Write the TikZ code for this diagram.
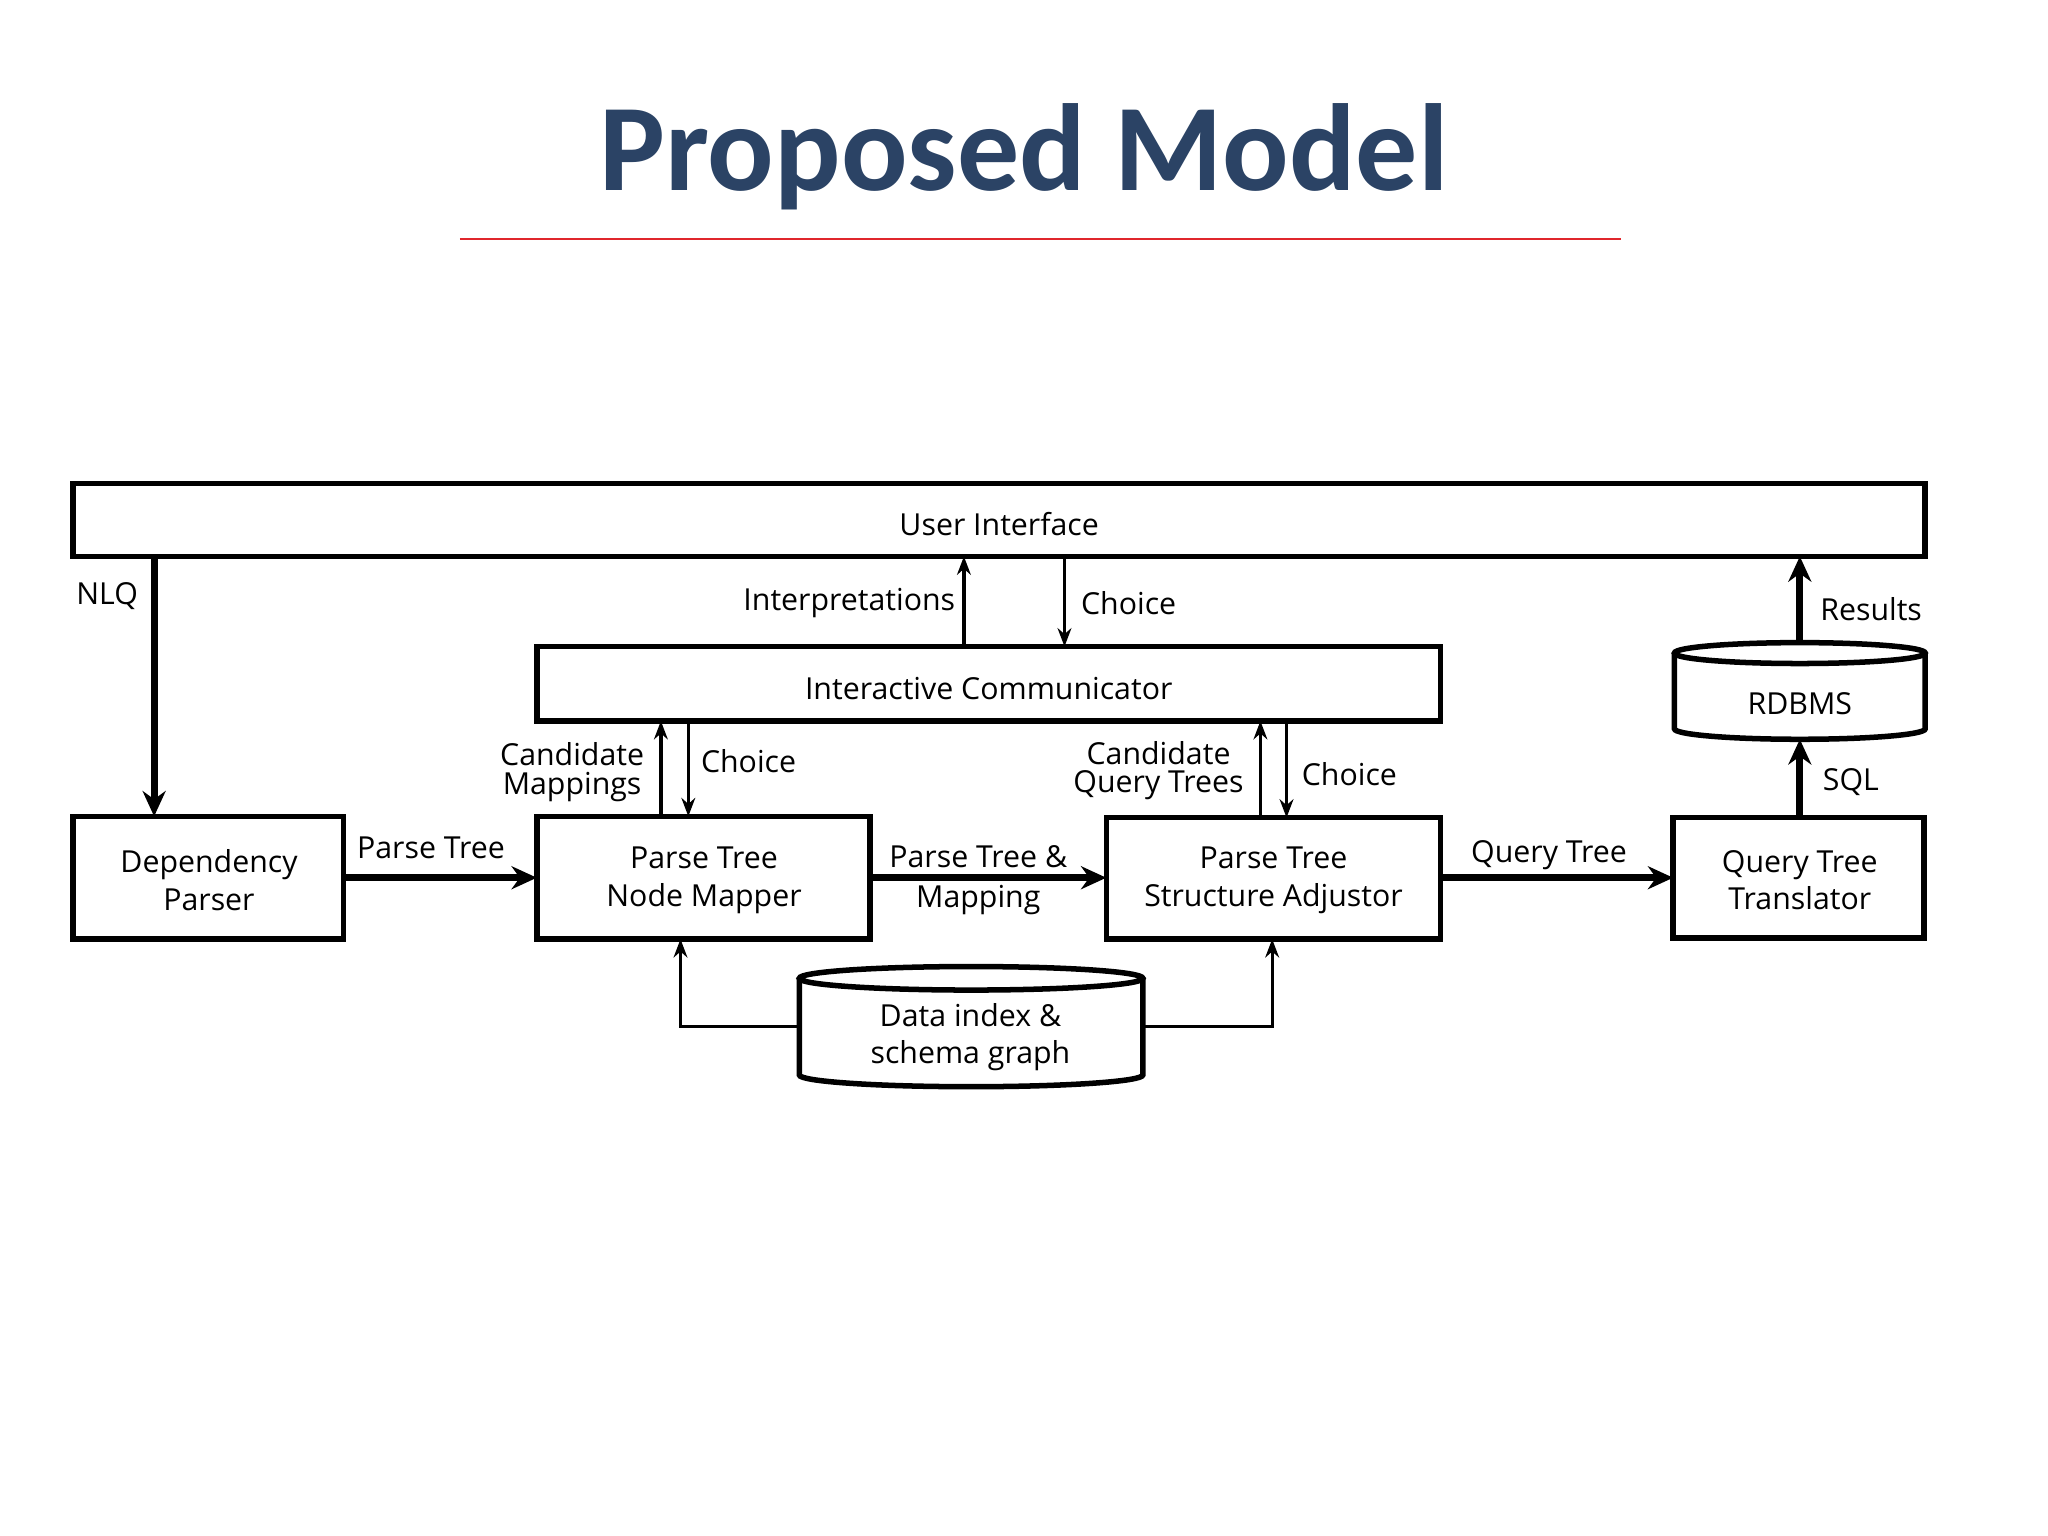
\documentclass[tikz,border=0pt]{standalone}
\usepackage{fontspec}
\setmainfont{Open Sans}
\newfontfamily\titlefont{Carlito}
\usetikzlibrary{arrows.meta}
\definecolor{navy}{HTML}{2B4365}
\definecolor{redline}{HTML}{E0262C}
\begin{document}
\begin{tikzpicture}[x=0.1mm,y=-0.1mm,
  every node/.style={font=\fontsize{6.6}{8.2}\selectfont, inner sep=0pt, align=center},
  thk/.style={line width=1.5pt, -{Stealth[length=5.5pt,width=5pt]}},
  thn/.style={line width=0.7pt, -{Stealth[length=4pt,width=3pt]}}]
\useasboundingbox (0,0) rectangle (1568,1176);
\fill[white] (0,0) rectangle (1568,1176);
\node[font=\titlefont\bfseries\fontsize{27}{29}\selectfont, text=navy] (title) at (784,120) {Proposed Model};
\draw[redline, line width=0.5pt] (352,183) -- (1241,183);
% boxes
\draw[line width=1.2pt] (56,370) rectangle (1474,426);
\node (ui) at (765,401) {User Interface};
\draw[line width=1.2pt] (411,495) rectangle (1103,552);
\node (ic) at (757,527) {Interactive Communicator};
\draw[line width=1.2pt] (56,625) rectangle (263,719);
\node (dp) at (160,674) {Dependency\\Parser};
\draw[line width=1.2pt] (411,625) rectangle (666,719);
\node (nm) at (539,674) {Parse Tree\\Node Mapper};
\draw[line width=1.2pt] (847,626) rectangle (1103,719);
\node (sa) at (975,674) {Parse Tree\\Structure Adjustor};
\draw[line width=1.2pt] (1281,626) rectangle (1473,718);
\node (qt) at (1378,674) {Query Tree\\Translator};
% RDBMS cylinder
\draw[line width=1.2pt, fill=white] (1282,500) -- (1282,558) arc[start angle=180,end angle=0,x radius=96,y radius=8] -- (1474,500);
\draw[line width=1.2pt] (1378,500) ellipse[x radius=96,y radius=8];
\node (db) at (1378,539) {RDBMS};
% data index cylinder
\draw[line width=1.2pt, fill=white] (612,749) -- (612,823) arc[start angle=180,end angle=0,x radius=131.5,y radius=9] -- (875,749);
\draw[line width=1.2pt] (743.5,749) ellipse[x radius=131.5,y radius=9];
\node (di) at (743,794) {Data index \&\\schema graph};
% arrows
\draw[thk] (118,426) -- (118,625);
\node (nlq) at (82,456) {NLQ};
\draw[thn] (738,495) -- (738,426);
\node[anchor=east] (interp) at (732,462) {Interpretations};
\draw[thn] (815,426) -- (815,495);
\node[anchor=west] (ch1) at (827,462) {Choice};
\draw[thk] (1378,492) -- (1378,426);
\node[anchor=west] (res) at (1393,466) {Results};
\draw[thk] (1378,626) -- (1378,566);
\node[anchor=west] (sql) at (1395,599) {SQL};
\draw[thn] (506,625) -- (506,552);
\draw[thn] (527,552) -- (527,625);
\node (cm) at (438,591) {Candidate\\[-2pt]Mappings};
\node[anchor=west] (ch2) at (536,583) {Choice};
\draw[thn] (965,626) -- (965,552);
\draw[thn] (985,552) -- (985,626);
\node (cq) at (887,590) {Candidate\\[-2pt]Query Trees};
\node[anchor=west] (ch3) at (996,593) {Choice};
\draw[thk] (263,672) -- (411,672);
\node (pt) at (330,649) {Parse Tree};
\draw[thk] (666,672) -- (847,672);
\node (ptm1) at (749,656) {Parse Tree \&};
\node (ptm2) at (749,689) {Mapping};
\draw[thk] (1103,672) -- (1281,672);
\node (qtl) at (1186,655) {Query Tree};
\draw[thn] (612,786) -- (521,786) -- (521,719);
\draw[thn] (875,786) -- (974,786) -- (974,719);
\end{tikzpicture}
\end{document}
